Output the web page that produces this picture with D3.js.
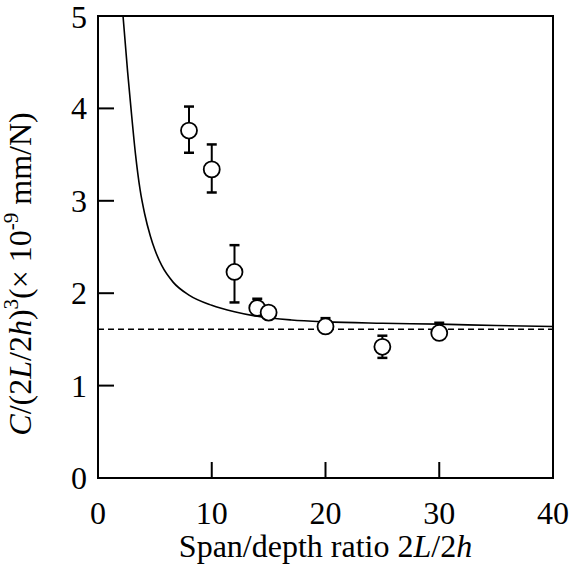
<!DOCTYPE html>
<html>
<head>
<meta charset="utf-8">
<script src="https://cdn.jsdelivr.net/npm/d3@7"></script>
<style>
  body { margin: 0; background: #fff; }
  text { font-family: "Liberation Serif", "DejaVu Serif", serif; fill: #000; }
</style>
</head>
<body>
<svg id="chart" width="570" height="564"></svg>
<script>
// measured points (span/depth ratio, normalised compliance)
var ratio = [8, 10, 12, 14, 15, 20, 25, 30];
var compl = [3.76, 3.34, 2.23, 1.84, 1.79, 1.64, 1.42, 1.57];
var errHi = [4.02, 3.61, 2.52, 1.94, null, 1.73, 1.54, 1.68];
var errLo = [3.52, 3.09, 1.90, null, null, null, 1.30, null];

// solid curve
var curveX = [2.2, 2.6, 2.9, 3.3, 3.7, 4.1, 4.6, 5.0, 5.6, 6.6, 8.0, 10, 12, 14, 17, 20, 25, 30, 35, 40];
var curveY = [5.0, 4.4, 4.0, 3.5, 3.12, 2.86, 2.62, 2.47, 2.30, 2.12, 1.98, 1.87, 1.80, 1.75, 1.71, 1.69, 1.675, 1.665, 1.65, 1.64];

var asymptote = 1.61;

var xTicks = [0, 10, 20, 30, 40];
var yTicks = [0, 1, 2, 3, 4, 5];

var svg = d3.select("#chart");
var mLeft = 98, mRight = 553, mTop = 16, mBottom = 478;

var x = d3.scaleLinear().domain([0, 40]).range([mLeft, mRight]);
var y = d3.scaleLinear().domain([0, 5]).range([mBottom, mTop]);

svg.append("clipPath").attr("id", "clip")
  .append("rect")
  .attr("x", mLeft).attr("y", mTop)
  .attr("width", mRight - mLeft).attr("height", mBottom - mTop);

var plot = svg.append("g").attr("clip-path", "url(#clip)");

// dashed asymptote
plot.append("line")
  .attr("x1", x(0)).attr("x2", x(40))
  .attr("y1", y(asymptote)).attr("y2", y(asymptote))
  .attr("stroke", "#000")
  .attr("stroke-width", 1.5)
  .attr("stroke-dasharray", "6,4");

// theory curve
var line = d3.line()
  .x(function(d, i){ return x(curveX[i]); })
  .y(function(d){ return y(d); })
  .curve(d3.curveMonotoneX);

plot.append("path")
  .datum(curveY)
  .attr("d", line)
  .attr("fill", "none")
  .attr("stroke", "#000")
  .attr("stroke-width", 1.6);

// error bars
var capW = 5;
ratio.forEach(function(r, i){
  var cx = x(r);
  [errHi[i], errLo[i]].forEach(function(e){
    if (e == null) return;
    svg.append("line")
      .attr("x1", cx).attr("x2", cx)
      .attr("y1", y(compl[i])).attr("y2", y(e))
      .attr("stroke", "#000").attr("stroke-width", 2);
    svg.append("line")
      .attr("x1", cx - capW).attr("x2", cx + capW)
      .attr("y1", y(e)).attr("y2", y(e))
      .attr("stroke", "#000").attr("stroke-width", 2.5);
  });
});

// circles
svg.selectAll(".pt")
  .data(ratio)
  .enter()
  .append("circle")
  .attr("class", "pt")
  .attr("cx", function(d){ return x(d); })
  .attr("cy", function(d, i){ return y(compl[i]); })
  .attr("r", 8)
  .attr("fill", "#fff")
  .attr("stroke", "#000")
  .attr("stroke-width", 1.8);

// frame
svg.append("rect")
  .attr("x", mLeft).attr("y", mTop)
  .attr("width", mRight - mLeft).attr("height", mBottom - mTop)
  .attr("fill", "none")
  .attr("stroke", "#000")
  .attr("stroke-width", 2);

// inward ticks
var tickLen = 16;
svg.selectAll(".xt")
  .data(xTicks.slice(1, -1))
  .enter().append("line")
  .attr("x1", function(d){ return x(d); }).attr("x2", function(d){ return x(d); })
  .attr("y1", mBottom).attr("y2", mBottom - tickLen)
  .attr("stroke", "#000").attr("stroke-width", 2);
svg.selectAll(".yt")
  .data(yTicks.slice(1, -1))
  .enter().append("line")
  .attr("x1", mLeft).attr("x2", mLeft + tickLen)
  .attr("y1", function(d){ return y(d); }).attr("y2", function(d){ return y(d); })
  .attr("stroke", "#000").attr("stroke-width", 2);

// tick labels
svg.selectAll(".xl")
  .data(xTicks)
  .enter().append("text")
  .attr("x", function(d){ return x(d); })
  .attr("y", 524)
  .attr("text-anchor", "middle")
  .attr("font-size", 32)
  .text(function(d){ return d; });
svg.selectAll(".yl")
  .data(yTicks)
  .enter().append("text")
  .attr("x", 87)
  .attr("y", function(d){ return y(d) + (d === 5 ? 12 : 11); })
  .attr("text-anchor", "end")
  .attr("font-size", 32)
  .text(function(d){ return d; });

// x title
var xt = svg.append("text")
  .attr("x", (mLeft + mRight) / 2)
  .attr("y", 557)
  .attr("text-anchor", "middle")
  .attr("font-size", 32);
xt.append("tspan").text("Span/depth ratio 2");
xt.append("tspan").attr("font-style", "italic").text("L");
xt.append("tspan").text("/2");
xt.append("tspan").attr("font-style", "italic").text("h");

// y title
var yt = svg.append("text")
  .attr("transform", "translate(31," + 274 + ") rotate(-90)")
  .attr("text-anchor", "middle")
  .attr("font-size", 32);
yt.append("tspan").attr("font-style", "italic").text("C");
yt.append("tspan").text("/(2");
yt.append("tspan").attr("font-style", "italic").text("L");
yt.append("tspan").text("/2");
yt.append("tspan").attr("font-style", "italic").text("h");
yt.append("tspan").text(")");
yt.append("tspan").attr("font-size", 21).attr("dy", -13).text("3");
yt.append("tspan").attr("dy", 13).text("(\u00d7 10");
yt.append("tspan").attr("font-size", 21).attr("dy", -13).text("-9");
yt.append("tspan").attr("dy", 13).text(" mm/N)");
</script>
</body>
</html>
